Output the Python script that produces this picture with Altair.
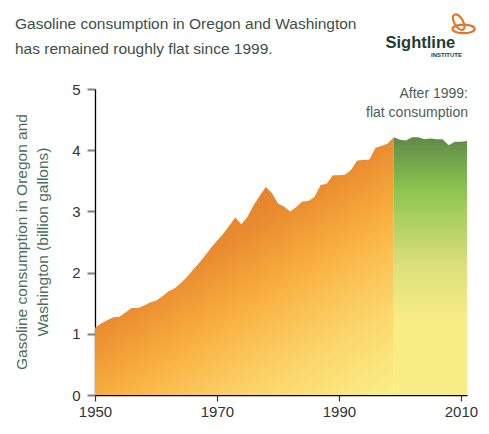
import altair as alt
import pandas as pd

years = list(range(1950, 2012))
values = [1.10, 1.17, 1.22, 1.27, 1.28, 1.35, 1.42, 1.42, 1.46, 1.51,
          1.54, 1.61, 1.69, 1.74, 1.82, 1.92, 2.04, 2.15, 2.27, 2.40,
          2.52, 2.63, 2.76, 2.90, 2.79, 2.91, 3.10, 3.25, 3.40, 3.30,
          3.13, 3.08, 3.00, 3.07, 3.16, 3.17, 3.24, 3.43, 3.45, 3.59,
          3.59, 3.60, 3.68, 3.83, 3.84, 3.85, 4.04, 4.07, 4.11, 4.21,
          4.17, 4.16, 4.21, 4.21, 4.18, 4.19, 4.18, 4.18, 4.08, 4.14,
          4.14, 4.15]
split_year = 1999
x_ticks = [1950, 1970, 1990, 2010]
y_ticks = [0, 1, 2, 3, 4, 5]

title_lines = ["Gasoline consumption in Oregon and Washington",
               "has remained roughly flat since 1999."]
ytitle_lines = ["Gasoline consumption in Oregon and",
                "Washington (billion gallons)"]
note_lines = ["After 1999:", "flat consumption"]
logo_name = "Sightline"
logo_sub = "INSTITUTE"

df = pd.DataFrame({"year": years, "value": values})
before = df[df.year <= split_year]
after = df[df.year >= split_year]

FONT = "Liberation Sans"

xs = alt.X("year:Q", scale=alt.Scale(domain=[1950, 2011], nice=False, zero=False),
           axis=alt.Axis(values=x_ticks, format="d", title=None, grid=False,
                         labelFlush=False, labelOverlap=False,
                         tickSize=6, tickColor="#333333", tickWidth=1.2,
                         labelPadding=3, domainColor="#000000", domainWidth=1.3,
                         labelColor="#333333", labelFontSize=15, labelFont=FONT))
ys = alt.Y("value:Q", scale=alt.Scale(domain=[0, 5], nice=False),
           axis=alt.Axis(values=y_ticks, format="d", title=None, grid=False,
                         tickSize=8, tickColor="#808080", tickWidth=2,
                         labelPadding=7, domainColor="#000000", domainWidth=1.3,
                         labelColor="#333333", labelFontSize=15, labelFont=FONT))

orange = alt.Chart(before).mark_area(
    color=alt.Gradient(
        gradient="linear", x1=0.234, y1=0.317, x2=0.832, y2=1.124,
        stops=[alt.GradientStop(offset=0, color="#DE7D2B"),
               alt.GradientStop(offset=0.2, color="#E98B30"),
               alt.GradientStop(offset=0.42, color="#F8AE3D"),
               alt.GradientStop(offset=0.55, color="#FAC053"),
               alt.GradientStop(offset=0.75, color="#FBD96F"),
               alt.GradientStop(offset=1, color="#F9EF86")])
).encode(x=xs, y=ys)

green = alt.Chart(after).mark_area(
    color=alt.Gradient(
        gradient="linear", x1=0, y1=0, x2=0, y2=1,
        stops=[alt.GradientStop(offset=0, color="#5E8A47"),
               alt.GradientStop(offset=0.2, color="#8CC450"),
               alt.GradientStop(offset=0.5, color="#DCE07A"),
               alt.GradientStop(offset=0.7, color="#F8EC85"),
               alt.GradientStop(offset=1, color="#F9EE86")])
).encode(x="year:Q", y="value:Q")

tdf = pd.DataFrame({"t": title_lines, "yy": [-60, -35]})
title = alt.Chart(tdf).mark_text(
    align="left", baseline="alphabetic", font=FONT, fontSize=15.5, color="#3B5046"
).encode(x=alt.value(-80), y=alt.Y("yy:Q", scale=None), text="t:N")

ydf = pd.DataFrame({"t": ytitle_lines, "xx": [-73, -52]})
ytitle = alt.Chart(ydf).mark_text(
    align="center", baseline="middle", angle=270, font=FONT, fontSize=15.5, color="#4A6E5E"
).encode(x=alt.X("xx:Q", scale=None), y=alt.value(153), text="t:N")

ndf = pd.DataFrame({"t": note_lines, "yy": [9.3, 27.7]})
note = alt.Chart(ndf).mark_text(
    align="right", baseline="alphabetic", font=FONT, fontSize=14, color="#4D5E57"
).encode(x=alt.value(373), y=alt.Y("yy:Q", scale=None), text="t:N")

logo1 = alt.Chart(pd.DataFrame({"t": [logo_name]})).mark_text(
    align="left", baseline="alphabetic", font=FONT, fontSize=16.5, fontWeight="bold",
    color="#1F3D33"
).encode(x=alt.value(290.5), y=alt.value(-41.5), text="t:N")

logo2 = alt.Chart(pd.DataFrame({"t": [logo_sub]})).mark_text(
    align="right", baseline="alphabetic", font=FONT, fontSize=6, fontWeight="bold",
    color="#1F3D33"
).encode(x=alt.value(367), y=alt.value(-32.5), text="t:N")

swirl_path = ("M -0.85,0.4 A 0.9,0.35 0 1,0 0.95,0.4 A 0.9,0.35 0 1,0 -0.85,0.4 Z "
              "M -0.7,-0.756 A 0.7,0.35 60 1,0 0,0.456 A 0.7,0.35 60 1,0 -0.7,-0.756 Z")
swirl = alt.Chart(pd.DataFrame({"t": [logo_name]})).mark_point(
    shape=swirl_path, filled=False, stroke="#E0782A", strokeWidth=2.2, size=600, opacity=1
).encode(x=alt.value(368), y=alt.value(-65))

chart = alt.layer(orange, green, title, ytitle, note, logo1, logo2, swirl).properties(
    width=372, height=306,
    autosize=alt.AutoSizeParams(type="none"),
    padding={"left": 87, "top": 81, "right": 14, "bottom": 30},
).configure_view(stroke=None)

chart.save("out.html", embed_options={"renderer": "svg", "actions": False})
